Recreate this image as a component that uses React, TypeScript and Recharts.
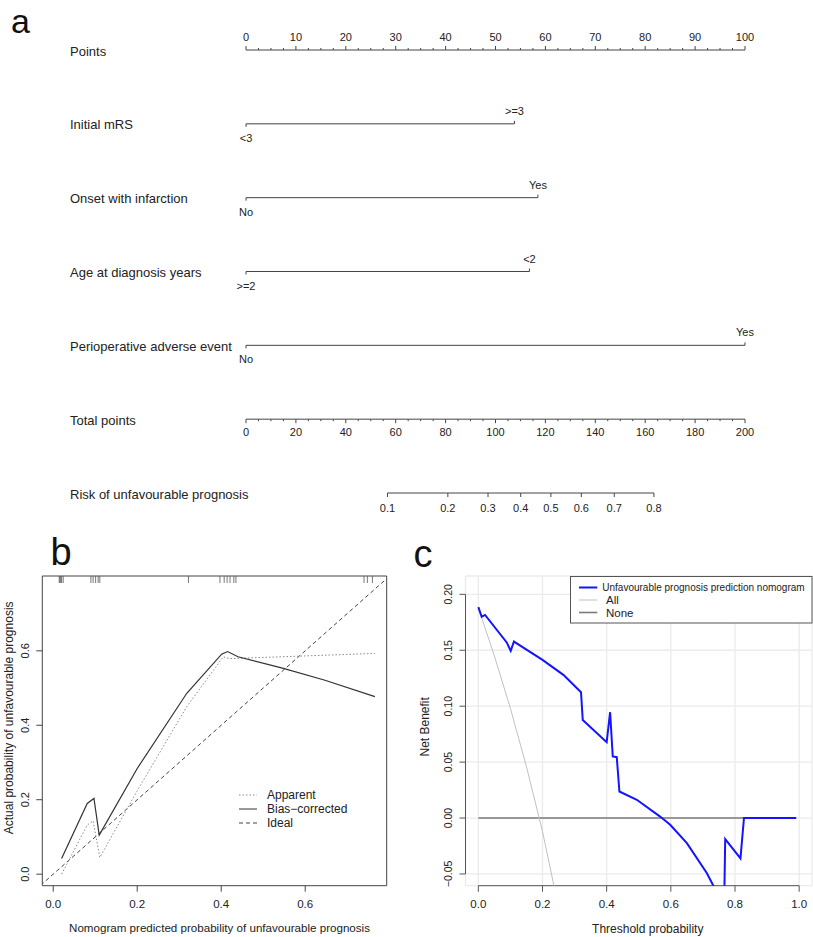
import React from "react";
import {
  ComposedChart,
  Line,
  Scatter,
  XAxis,
  YAxis,
  CartesianGrid,
  ReferenceArea,
  ReferenceLine,
  Legend,
  Label,
} from "recharts";

const FONT = '"Liberation Sans", Arial, Helvetica, sans-serif';
const INK = "#222";

// ---------- a: nomogram ----------
const rowLabels = [
  "Points",
  "Initial mRS",
  "Onset with infarction",
  "Age at diagnosis years",
  "Perioperative adverse event",
  "Total points",
  "Risk of unfavourable prognosis",
];
const pointsMajor = [0, 10, 20, 30, 40, 50, 60, 70, 80, 90, 100];
const totalMajor = [0, 20, 40, 60, 80, 100, 120, 140, 160, 180, 200];

const mrsLevels = ["<3", ">=3"];
const mrsPoints = [0, 53.8];
const infarctLevels = ["No", "Yes"];
const infarctPoints = [0, 58.5];
const ageLevels = [">=2", "<2"];
const agePoints = [0, 56.8];
const adverseLevels = ["No", "Yes"];
const adversePoints = [0, 100];

const riskLabels = ["0.1", "0.2", "0.3", "0.4", "0.5", "0.6", "0.7", "0.8"];
const riskAtTotal = [56.7, 80.9, 97, 110.1, 122.2, 134.4, 147.6, 163.5];

// ---------- b: calibration ----------
const apparentPred = [0.02, 0.081, 0.095, 0.111, 0.2, 0.318, 0.405, 0.42, 0.766];
const apparentObs = [0.0, 0.132, 0.143, 0.045, 0.224, 0.45, 0.584, 0.579, 0.593];
const biasPred = [0.02, 0.081, 0.097, 0.1095, 0.2, 0.318, 0.401, 0.415, 0.44, 0.548, 0.647, 0.766];
const biasObs = [0.042, 0.19, 0.2035, 0.105, 0.284, 0.486, 0.591, 0.598, 0.584, 0.553, 0.521, 0.477];
const idealEnds = [-0.03, 0.81];
const rugPred = [
  0.0143, 0.016, 0.018, 0.02, 0.0238, 0.0898, 0.095, 0.101, 0.107, 0.111, 0.322, 0.397, 0.407,
  0.414, 0.421, 0.43, 0.435, 0.74, 0.748, 0.76,
];
const calTicks = [0, 0.2, 0.4, 0.6];
const calXDomain = [-0.026, 0.794];
const calYDomain = [-0.031, 0.801];

// ---------- c: decision curve ----------
const dcaThreshold = [
  0, 0.0105, 0.021, 0.0885, 0.101, 0.111, 0.2, 0.265, 0.32, 0.3255, 0.4, 0.4107, 0.419, 0.4315,
  0.4397, 0.494, 0.5666, 0.598, 0.65, 0.712, 0.731, 0.75, 0.766, 0.7695, 0.817, 0.828, 0.991,
];
const dcaNomogram = [
  0.1885, 0.18, 0.1816, 0.157, 0.1494, 0.1578, 0.1414, 0.128, 0.1125, 0.0877, 0.0678, 0.0946, 0.055,
  0.0544, 0.0237, 0.0163, 0.0013, -0.006, -0.0224, -0.0492, -0.0596, -0.071, -0.082, -0.0189, -0.036,
  0, 0,
];
const dcaAllThreshold = [0, 0.05, 0.1, 0.15, 0.2, 0.25];
const dcaAll = [0.188, 0.145, 0.098, 0.046, -0.012, -0.08];
const dcaNoneThreshold = [0, 0.99];
const dcaNone = [0, 0];
const dcaXTicks = [0, 0.2, 0.4, 0.6, 0.8, 1];
const dcaYTicks = [-0.05, 0, 0.05, 0.1, 0.15, 0.2];
const dcaXDomain = [-0.04, 1.04];
const dcaYDomain = [-0.0605, 0.2164];
const dcaNames = ["Unfavourable prognosis prediction nomogram", "All", "None"];

// ---------- builders ----------
type NomoPt = { x: number; row: number; tick: number; label: string; dy: number };

const scaleRow = (step: number, max: number, major: number[], row: number, dir: number, dy: number): NomoPt[] =>
  Array.from({ length: Math.round(max / step) + 1 }, (_, i) => i * step).map((v) => {
    const isMajor = major.includes(v);
    return { x: v, row, tick: dir * (isMajor ? 4 : 2), label: isMajor ? String(v) : "", dy };
  });

const levelRow = (levels: string[], pts: number[], row: number): NomoPt[] =>
  pts.map((p, i) => ({
    x: p,
    row,
    tick: i === 0 ? 3 : -3,
    label: levels[i],
    dy: i === 0 ? 14 : -13,
  }));

const pointsRow = scaleRow(2.5, 100, pointsMajor, 0, -1, -13);
const totalRow = scaleRow(5, 200, totalMajor, 5, 1, 13);
const riskRow: NomoPt[] = riskAtTotal.map((p, i) => ({ x: p, row: 6, tick: 4, label: riskLabels[i], dy: 15 }));
const predictorRows = [
  levelRow(mrsLevels, mrsPoints, 1),
  levelRow(infarctLevels, infarctPoints, 2),
  levelRow(ageLevels, agePoints, 3),
  levelRow(adverseLevels, adversePoints, 4),
];

const xy = (xs: number[], ys: number[]) => xs.map((x, i) => ({ x, y: ys[i] }));

const apparentData = xy(apparentPred, apparentObs);
const biasData = xy(biasPred, biasObs);
const idealData = xy(idealEnds, idealEnds);
const rugData = rugPred.map((x) => ({ x, y: calYDomain[1] }));

const nomogramData = xy(dcaThreshold, dcaNomogram);
const allData = xy(dcaAllThreshold, dcaAll);
const noneData = xy(dcaNoneThreshold, dcaNone);

// ---------- small renderers ----------
function NomoTick(props: any) {
  const { cx, cy, payload } = props;
  if (cx == null || cy == null) return null;
  return (
    <g>
      <line x1={cx} x2={cx} y1={cy} y2={cy + payload.tick} stroke="#444" strokeWidth={1} />
      {payload.label ? (
        <text
          x={cx}
          y={cy + payload.dy}
          textAnchor="middle"
          dominantBaseline="central"
          fontSize={11}
          fill={INK}
          fontFamily={FONT}
        >
          {payload.label}
        </text>
      ) : null}
    </g>
  );
}

const renderNomoTick = (p: any) => <NomoTick key={`t-${p.index}`} {...p} />;

function RowName(props: any) {
  const { y, payload } = props;
  return (
    <text x={70} y={y + 1} dominantBaseline="central" fontSize={13} fill={INK} fontFamily={FONT}>
      {rowLabels[payload.value]}
    </text>
  );
}

const rotatedTick = (fontSize: number, fmt: (v: number) => string) => (props: any) => {
  const { x, y, payload } = props;
  return (
    <text
      x={x}
      y={y}
      transform={`rotate(-90 ${x} ${y})`}
      textAnchor="middle"
      dominantBaseline="central"
      fontSize={fontSize}
      fill={INK}
      fontFamily={FONT}
    >
      {fmt(payload.value)}
    </text>
  );
};

const RugMark = (p: any) => (
  <line x1={p.cx} x2={p.cx} y1={p.cy} y2={p.cy + 7} stroke="#555" strokeWidth={0.8} />
);

const calLegend = [
  { name: "Apparent", stroke: "#888", dash: "1.5 2" },
  { name: "Bias\u2212corrected", stroke: "#333", dash: undefined },
  { name: "Ideal", stroke: "#444", dash: "4 3" },
];

function CalLegend() {
  return (
    <svg width={160} height={46}>
      {calLegend.map((e, i) => (
        <g key={e.name}>
          <line x1={3} x2={21} y1={8 + i * 14} y2={8 + i * 14} stroke={e.stroke} strokeDasharray={e.dash} />
          <text x={31} y={8 + i * 14} dominantBaseline="central" fontSize={12} fill={INK} fontFamily={FONT}>
            {e.name}
          </text>
        </g>
      ))}
    </svg>
  );
}

const dcaStyles = [
  { stroke: "#1414ff", width: 2, fs: 10, tx: 32.3 },
  { stroke: "#c0c0c0", width: 1, fs: 11.5, tx: 36 },
  { stroke: "#7a7a7a", width: 1.6, fs: 11.5, tx: 36 },
];

function DcaLegend() {
  return (
    <svg width={243} height={48}>
      <rect x={0.5} y={0.5} width={241.5} height={46.5} fill="#fff" stroke="#555" strokeWidth={1} />
      {dcaNames.map((name, i) => {
        const s = dcaStyles[i];
        const y = 11.5 + i * 12.5;
        return (
          <g key={name}>
            <line x1={9} x2={27.3} y1={y} y2={y} stroke={s.stroke} strokeWidth={s.width} />
            <text x={s.tx} y={y} dominantBaseline="central" fontSize={s.fs} fill={INK} fontFamily={FONT}>
              {name}
            </text>
          </g>
        );
      })}
    </svg>
  );
}

// ---------- panels ----------
function Nomogram() {
  return (
    <ComposedChart width={813} height={520} margin={{ top: 50, right: 68, bottom: 27, left: 0 }}>
      <XAxis xAxisId="pts" type="number" dataKey="x" domain={[0, 100]} hide />
      <XAxis xAxisId="tot" type="number" dataKey="x" domain={[0, 200]} hide />
      <YAxis
        type="number"
        domain={[0, 6]}
        reversed
        ticks={[0, 1, 2, 3, 4, 5, 6]}
        width={246}
        axisLine={false}
        tickLine={false}
        tick={RowName}
      />
      <Line
        xAxisId="pts"
        data={pointsRow}
        dataKey="row"
        stroke="#444"
        strokeWidth={1}
        dot={renderNomoTick}
        activeDot={false}
        isAnimationActive={false}
      />
      {predictorRows.map((rowData, i) => (
        <Line
          key={`p${i}`}
          xAxisId="pts"
          data={rowData}
          dataKey="row"
          stroke="#444"
          strokeWidth={1}
          dot={renderNomoTick}
          activeDot={false}
          isAnimationActive={false}
        />
      ))}
      <Line
        xAxisId="tot"
        data={totalRow}
        dataKey="row"
        stroke="#444"
        strokeWidth={1}
        dot={renderNomoTick}
        activeDot={false}
        isAnimationActive={false}
      />
      <Line
        xAxisId="tot"
        data={riskRow}
        dataKey="row"
        stroke="#444"
        strokeWidth={1}
        dot={renderNomoTick}
        activeDot={false}
        isAnimationActive={false}
      />
    </ComposedChart>
  );
}

function Calibration() {
  return (
    <ComposedChart width={410} height={377} margin={{ top: 16, right: 23.3, bottom: 0, left: 0 }}>
      <XAxis
        type="number"
        dataKey="x"
        domain={calXDomain}
        ticks={calTicks}
        allowDataOverflow
        height={51.3}
        axisLine={false}
        tickSize={6}
        tickMargin={8.5}
        stroke="#444"
        tick={{ fill: INK, fontSize: 11.5, fontFamily: FONT }}
        tickFormatter={(v: number) => v.toFixed(1)}
      >
        <Label
          value="Nomogram predicted probability of unfavourable prognosis"
          position="insideBottom"
          offset={5}
          dx={5}
          style={{ fontSize: 11.6, fill: INK, fontFamily: FONT }}
        />
      </XAxis>
      <YAxis
        type="number"
        dataKey="y"
        domain={calYDomain}
        ticks={calTicks}
        allowDataOverflow
        width={42.3}
        axisLine={false}
        tickSize={6}
        tickMargin={11.5}
        stroke="#444"
        tick={rotatedTick(11, (v) => v.toFixed(1))}
      >
        <Label
          value="Actual probability of unfavourable prognosis"
          angle={-90}
          position="insideLeft"
          offset={8.5}
          dy={-13}
          style={{ fontSize: 12, fill: INK, fontFamily: FONT, textAnchor: "middle" }}
        />
      </YAxis>
      <ReferenceArea
        x1={calXDomain[0]}
        x2={calXDomain[1]}
        y1={calYDomain[0]}
        y2={calYDomain[1]}
        fill="none"
        stroke="#444"
        strokeWidth={1}
        ifOverflow="visible"
      />
      <Scatter data={rugData} shape={RugMark} isAnimationActive={false} />
      <Line
        data={idealData}
        dataKey="y"
        stroke="#444"
        strokeWidth={1}
        strokeDasharray="4 3"
        dot={false}
        activeDot={false}
        isAnimationActive={false}
      />
      <Line
        data={apparentData}
        dataKey="y"
        stroke="#888"
        strokeWidth={1}
        strokeDasharray="1.5 2"
        dot={false}
        activeDot={false}
        isAnimationActive={false}
      />
      <Line
        data={biasData}
        dataKey="y"
        stroke="#333"
        strokeWidth={1.2}
        dot={false}
        activeDot={false}
        isAnimationActive={false}
      />
      <Legend
        layout="vertical"
        align="center"
        verticalAlign="middle"
        content={() => <CalLegend />}
        wrapperStyle={{ left: 236, top: 227, width: 160 }}
      />
    </ComposedChart>
  );
}

function DecisionCurve() {
  return (
    <ComposedChart width={413} height={397} margin={{ top: 36, right: 1, bottom: 0, left: 0 }}>
      <CartesianGrid stroke="#ebebeb" strokeWidth={1.3} />
      <XAxis
        type="number"
        dataKey="x"
        domain={dcaXDomain}
        ticks={dcaXTicks}
        allowDataOverflow
        height={51.3}
        axisLine={false}
        tickSize={6}
        tickMargin={8.5}
        stroke="#555"
        tick={{ fill: INK, fontSize: 11.5, fontFamily: FONT }}
        tickFormatter={(v: number) => v.toFixed(1)}
      >
        <Label
          value="Threshold probability"
          position="insideBottom"
          offset={4.5}
          dx={9}
          style={{ fontSize: 12, fill: INK, fontFamily: FONT }}
        />
      </XAxis>
      <YAxis
        type="number"
        dataKey="y"
        domain={dcaYDomain}
        ticks={dcaYTicks}
        allowDataOverflow
        width={65.5}
        axisLine={false}
        tickSize={6}
        tickMargin={11}
        stroke="#555"
        tick={rotatedTick(10.5, (v) => v.toFixed(2).replace("-", "\u2212"))}
      >
        <Label
          value="Net Benefit"
          angle={-90}
          position="insideLeft"
          offset={25}
          dy={-4}
          style={{ fontSize: 12, fill: INK, fontFamily: FONT, textAnchor: "middle" }}
        />
      </YAxis>
      <ReferenceLine
        segment={[
          { x: dcaXDomain[0], y: dcaYTicks[0] },
          { x: dcaXDomain[0], y: dcaYTicks[dcaYTicks.length - 1] },
        ]}
        stroke="#555"
        ifOverflow="visible"
      />
      <ReferenceLine
        segment={[
          { x: dcaXTicks[0], y: dcaYDomain[0] },
          { x: dcaXTicks[dcaXTicks.length - 1], y: dcaYDomain[0] },
        ]}
        stroke="#555"
        ifOverflow="visible"
      />
      <Line
        data={noneData}
        dataKey="y"
        stroke={dcaStyles[2].stroke}
        strokeWidth={dcaStyles[2].width}
        dot={false}
        activeDot={false}
        isAnimationActive={false}
      />
      <Line
        data={allData}
        dataKey="y"
        stroke={dcaStyles[1].stroke}
        strokeWidth={dcaStyles[1].width}
        dot={false}
        activeDot={false}
        isAnimationActive={false}
      />
      <Line
        data={nomogramData}
        dataKey="y"
        stroke={dcaStyles[0].stroke}
        strokeWidth={dcaStyles[0].width}
        dot={false}
        activeDot={false}
        isAnimationActive={false}
      />
      <Legend
        layout="vertical"
        align="center"
        verticalAlign="middle"
        content={() => <DcaLegend />}
        wrapperStyle={{ left: 170, top: 36, width: 243 }}
      />
    </ComposedChart>
  );
}

export default function App() {
  return (
    <div
      style={{
        position: "absolute",
        left: 0,
        top: 0,
        width: 813,
        height: 937,
        background: "#fff",
        fontFamily: FONT,
        overflow: "hidden",
      }}
    >
      <div style={{ position: "absolute", left: 0, top: 0 }}>
        <Nomogram />
      </div>
      <div style={{ position: "absolute", left: 0, top: 560 }}>
        <Calibration />
      </div>
      <div style={{ position: "absolute", left: 400, top: 540 }}>
        <DecisionCurve />
      </div>
      <svg
        width={813}
        height={937}
        style={{ position: "absolute", left: 0, top: 0, pointerEvents: "none" }}
      >
        <text x={11} y={33} fontSize={34} fill="#111" fontFamily={FONT}>
          a
        </text>
        <text x={50.5} y={565} fontSize={38} fill="#111" fontFamily={FONT}>
          b
        </text>
        <text x={413.5} y={567} fontSize={38} fill="#111" fontFamily={FONT}>
          c
        </text>
      </svg>
    </div>
  );
}
